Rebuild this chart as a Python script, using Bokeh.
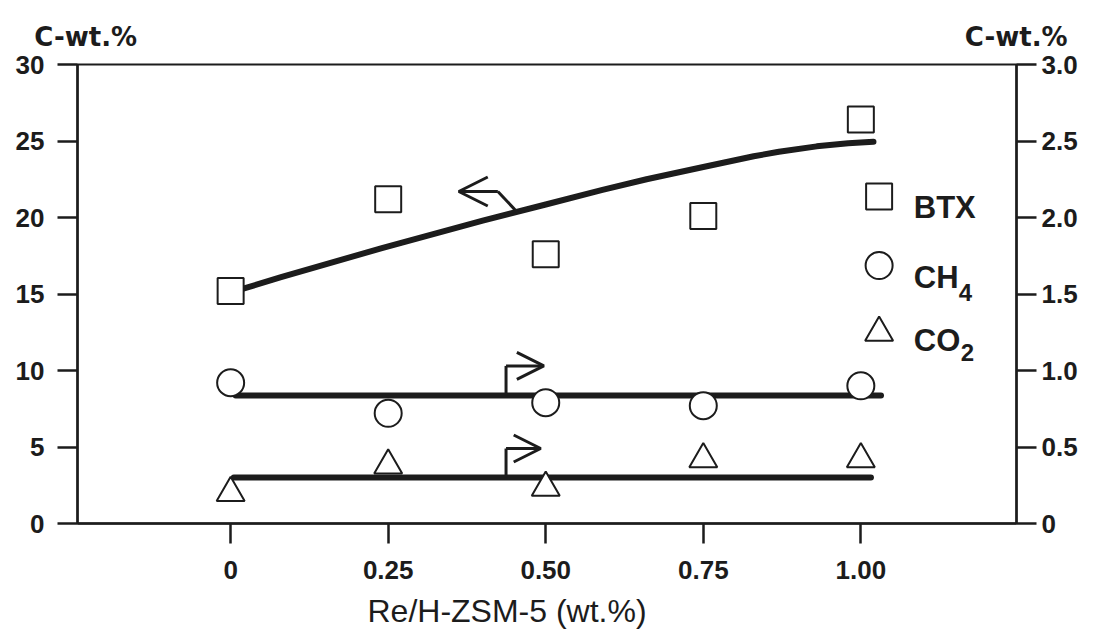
from bokeh.plotting import figure
from bokeh.models import (Range1d, LinearAxis, FixedTicker, Arrow, OpenHead, Title)
from bokeh.core.properties import value
from bokeh.embed import file_html
from bokeh.resources import INLINE

# ---- data ----
re_loading = [0, 0.25, 0.50, 0.75, 1.00]
btx = [15.2, 21.2, 17.6, 20.1, 26.4]          # left axis, C-wt.%
ch4 = [0.92, 0.72, 0.79, 0.77, 0.90]          # right axis, C-wt.%
co2 = [0.20, 0.38, 0.235, 0.42, 0.42]         # right axis, C-wt.%

btx_trend_x = [0.0, 0.08, 0.24, 0.40, 0.50, 0.59, 0.66, 0.75, 0.83, 0.87, 0.93, 0.98, 1.02]
btx_trend_y = [15.1, 16.1, 18.0, 19.8, 20.85, 21.8, 22.5, 23.3, 24.0, 24.3, 24.65, 24.85, 24.95]
ch4_trend_x = [0.008, 1.032]
ch4_trend_y = [0.837, 0.837]
co2_trend_x = [0.005, 1.016]
co2_trend_y = [0.30, 0.30]

left_ticks = [0, 5, 10, 15, 20, 25, 30]
right_ticks = [0, 0.5, 1.0, 1.5, 2.0, 2.5, 3.0]
right_tick_labels = ["0", "0.5", "1.0", "1.5", "2.0", "2.5", "3.0"]
x_ticks = [0, 0.25, 0.5, 0.75, 1.0]
x_tick_labels = ["0", "0.25", "0.50", "0.75", "1.00"]
unit_label_pos = [-0.230, 1.2465]
unit_labels = ["C-wt.%", "C-wt.%"]

legend_names = ["BTX", "CH", "CO"]
legend_subs = ["4", "2"]

INK = "#1c1c1c"
FONT = "Liberation Sans"

p = figure(width=1093, height=644,
           x_range=Range1d(-0.243, 1.247), y_range=Range1d(0, 30),
           output_backend="svg", toolbar_location=None,
           min_border_left=77, min_border_right=77,
           min_border_top=64, min_border_bottom=121)
p.extra_y_ranges = {"right": Range1d(0, 3)}
p.xgrid.visible = False
p.ygrid.visible = False
p.outline_line_color = INK
p.outline_line_width = 2
p.background_fill_color = "white"
p.border_fill_color = "white"

p.yaxis.ticker = FixedTicker(ticks=left_ticks)
p.xaxis.ticker = FixedTicker(ticks=x_ticks)
p.xaxis.major_label_overrides = dict(zip(x_ticks, x_tick_labels))

ax_r = LinearAxis(y_range_name="right", ticker=FixedTicker(ticks=right_ticks),
                  major_label_overrides=dict(zip(right_ticks, right_tick_labels)))
p.add_layout(ax_r, "right")

def style(ax, standoff):
    ax.axis_line_color = INK
    ax.axis_line_width = 2.5
    ax.major_tick_line_color = INK
    ax.major_tick_line_width = 2.5
    ax.major_tick_out = 20
    ax.major_tick_in = 0
    ax.minor_tick_line_color = None
    ax.major_label_text_font = FONT
    ax.major_label_text_font_style = "bold"
    ax.major_label_text_font_size = "26px"
    ax.major_label_text_color = INK
    ax.major_label_standoff = standoff

style(p.yaxis[0], 13)
style(p.xaxis[0], 17)
style(ax_r, 5)

# unit labels above both value axes
ax_top = LinearAxis(ticker=FixedTicker(ticks=unit_label_pos),
                    major_label_overrides=dict(zip(unit_label_pos, unit_labels)))
ax_top.axis_line_color = None
ax_top.major_tick_line_color = None
ax_top.minor_tick_line_color = None
ax_top.major_tick_out = 0
ax_top.major_tick_in = 0
ax_top.major_label_standoff = 13
ax_top.major_label_text_font = "DejaVu Sans"
ax_top.major_label_text_font_style = "bold"
ax_top.major_label_text_font_size = "26px"
ax_top.major_label_text_color = INK
p.add_layout(ax_top, "above")

# x axis title
p.add_layout(Title(text="Re/H-ZSM-5 (wt.%)", align="left", offset=290,
                   text_font=FONT, text_font_style="normal", text_font_size="32px",
                   text_color=INK, standoff=18), "below")

# trend lines
p.line(btx_trend_x, btx_trend_y, line_color=INK, line_width=6, line_cap="round",
       line_join="round")
p.line(ch4_trend_x, ch4_trend_y, line_color=INK, line_width=6, line_cap="round",
       y_range_name="right")
p.line(co2_trend_x, co2_trend_y, line_color=INK, line_width=6, line_cap="round",
       y_range_name="right")

# arrows pointing to the relevant axis
p.line([0.456, 0.424], [20.3, 21.7], line_color=INK, line_width=3)
p.add_layout(Arrow(x_start=0.424, y_start=21.7, x_end=0.362, y_end=21.7,
                   line_color=INK, line_width=3,
                   end=OpenHead(size=29, line_width=3, line_color=INK)))
p.line([0.437, 0.437], [0.837, 1.03], line_color=INK, line_width=3, y_range_name="right")
p.add_layout(Arrow(x_start=0.437, y_start=1.03, x_end=0.497, y_end=1.03,
                   line_color=INK, line_width=3, y_range_name="right",
                   end=OpenHead(size=27, line_width=3, line_color=INK)))
p.line([0.437, 0.437], [0.30, 0.49], line_color=INK, line_width=3, y_range_name="right")
p.add_layout(Arrow(x_start=0.437, y_start=0.49, x_end=0.492, y_end=0.49,
                   line_color=INK, line_width=3, y_range_name="right",
                   end=OpenHead(size=27, line_width=3, line_color=INK)))

# markers
p.scatter(re_loading, btx, marker="square", size=26, fill_color="white",
          line_color=INK, line_width=2)
p.scatter(re_loading, ch4, marker="circle", size=27, fill_color="white",
          line_color=INK, line_width=2, y_range_name="right")
p.scatter(re_loading, co2, marker="triangle", size=28, fill_color="white",
          line_color=INK, line_width=2, y_range_name="right")

# legend (drawn by hand to reproduce the subscripts)
lx = 1.029
p.scatter([lx], [21.37], marker="square", size=26, fill_color="white", line_color=INK, line_width=2)
p.scatter([lx], [16.86], marker="circle", size=27, fill_color="white", line_color=INK, line_width=2)
p.scatter([lx], [12.48], marker="triangle", size=28, fill_color="white", line_color=INK, line_width=2)
p.text(x=[1.084, 1.084, 1.084], y=[20.65, 16.08, 11.96], text=legend_names,
       text_font=value(FONT), text_font_style="bold", text_font_size="31px",
       text_baseline="alphabetic", text_align="left", text_color=INK)
p.text(x=[1.084, 1.084], y=[16.08, 11.96], text=legend_subs,
       x_offset=[45, 47], y_offset=[15, 12],
       text_font=value(FONT), text_font_style="bold", text_font_size="24px",
       text_baseline="alphabetic", text_align="left", text_color=INK)

open("out.html", "w").write(file_html(p, INLINE))
